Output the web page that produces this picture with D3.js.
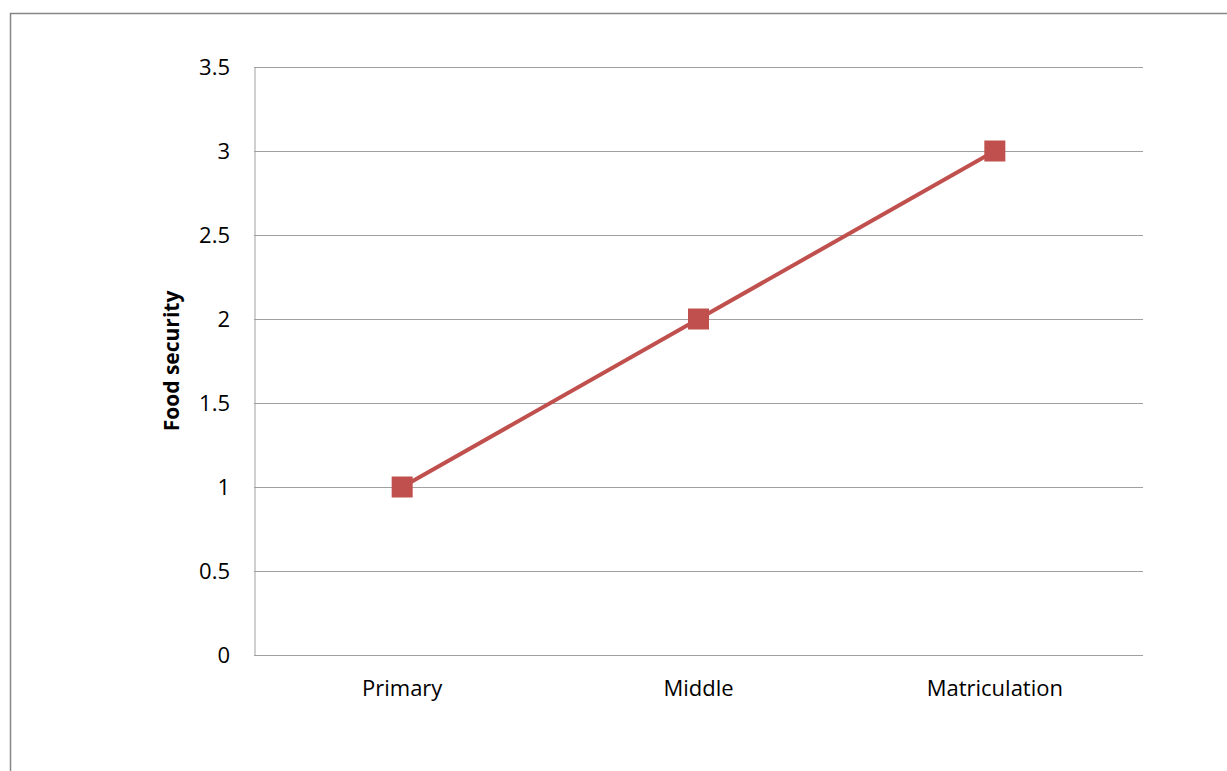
<!DOCTYPE html>
<html lang="en">
<head>
    <meta charset="UTF-8">
    <title>Food security by education</title>
    <script src="https://d3js.org/d3.v7.min.js"></script>
    <style>
        body { margin: 0; background: #fff; }
        text { font-family: "Open Sans", sans-serif; fill: #000; }
    </style>
</head>
<body>
    <svg width="1227" height="771"></svg>

    <script>
        const categories = ["Primary", "Middle", "Matriculation"];
        const foodSecurity = [1, 2, 3];
        const yTicks = [0, 0.5, 1, 1.5, 2, 2.5, 3, 3.5];

        const svg = d3.select("svg");
        const margin = { top: 67, left: 254, right: 84, bottom: 116 };
        const width = 1227 - margin.left - margin.right;
        const height = 771 - margin.top - margin.bottom;

        // outer chart border
        svg.append("rect")
            .attr("x", 10.5).attr("y", 13.5)
            .attr("width", 1240).attr("height", 800)
            .attr("fill", "none")
            .attr("stroke", "#868686")
            .attr("stroke-width", 1.5);

        const g = svg.append("g")
            .attr("transform", `translate(${margin.left},${margin.top})`);

        const x = d3.scaleBand().domain(categories).range([0, width]);
        const y = d3.scaleLinear().domain([0, 3.5]).range([height, 0]);

        // gridlines
        g.append("g")
            .selectAll("line")
            .data(yTicks)
            .enter().append("line")
            .attr("x1", 0).attr("x2", width)
            .attr("y1", d => Math.round(y(d)) + 0.5)
            .attr("y2", d => Math.round(y(d)) + 0.5)
            .attr("stroke", "#a0a0a0");

        // y axis
        const yAxis = g.append("g")
            .call(d3.axisLeft(y).tickValues(yTicks).tickSize(0).tickPadding(24).tickFormat(d3.format("")));
        yAxis.select(".domain").attr("stroke", "#a0a0a0").attr("transform", "translate(0.5,0)");
        yAxis.selectAll("text").style("font-size", "22px");

        // x axis
        const xAxis = g.append("g")
            .attr("transform", `translate(0,${height})`)
            .call(d3.axisBottom(x).tickSize(0).tickPadding(25));
        xAxis.select(".domain").remove();
        xAxis.selectAll("text").style("font-size", "22px");

        // y axis title
        g.append("text")
            .attr("transform", `translate(-75,${height / 2}) rotate(-90)`)
            .attr("text-anchor", "middle")
            .style("font-size", "21px")
            .style("font-weight", "bold")
            .text("Food security");

        const line = d3.line()
            .x((d, i) => x(categories[i]) + x.bandwidth() / 2)
            .y(d => y(d));

        g.append("path")
            .datum(foodSecurity)
            .attr("d", line)
            .attr("fill", "none")
            .attr("stroke", "#c0504d")
            .attr("stroke-width", 4);

        g.append("g")
            .selectAll("rect")
            .data(foodSecurity)
            .enter().append("rect")
            .attr("x", (d, i) => x(categories[i]) + x.bandwidth() / 2 - 10.5)
            .attr("y", d => y(d) - 10.5)
            .attr("width", 21).attr("height", 21)
            .attr("fill", "#c0504d");
    </script>
</body>
</html>
